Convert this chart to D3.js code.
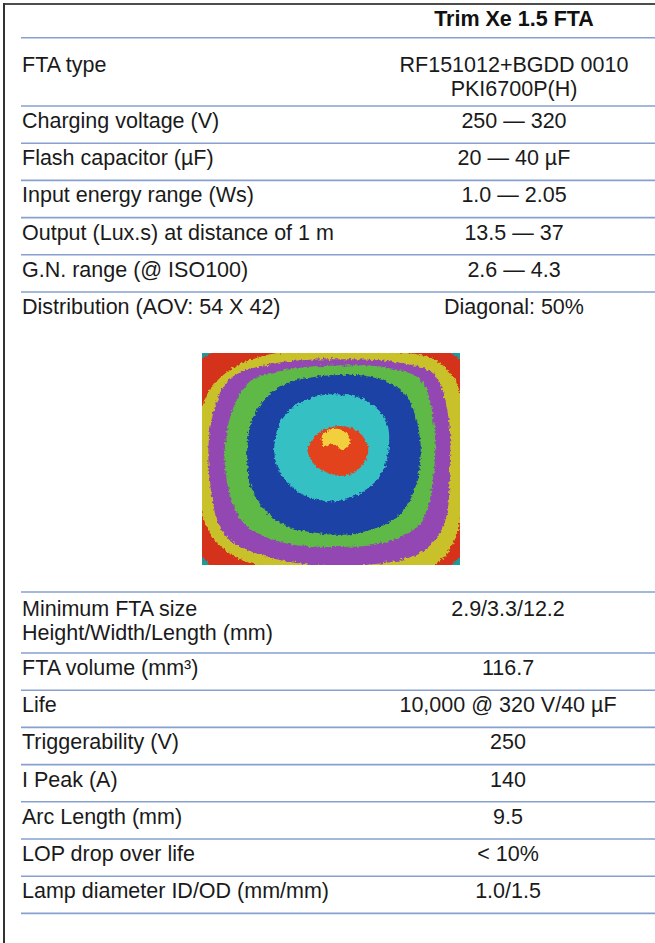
<!DOCTYPE html>
<html lang="en">
<head>
<meta charset="UTF-8">
<title>Trim Xe 1.5 FTA</title>
<script src="https://d3js.org/d3.v7.min.js"></script>
<style>
  body { margin: 0; background: #fff; }
  svg { display: block; font-family: "Liberation Sans", Arial, sans-serif; }
</style>
</head>
<body>
<svg width="655" height="943"></svg>
<script>
// table content
const header = "Trim Xe 1.5 FTA";
const topLabels = ["FTA type", "Charging voltage (V)", "Flash capacitor (µF)", "Input energy range (Ws)",
  "Output (Lux.s) at distance of 1 m", "G.N. range (@ ISO100)", "Distribution (AOV: 54 X 42)"];
const topValues = ["RF151012+BGDD 0010|PKI6700P(H)", "250 — 320", "20 — 40 µF", "1.0 — 2.05",
  "13.5 — 37", "2.6 — 4.3", "Diagonal: 50%"];
const bottomLabels = ["Minimum FTA size|Height/Width/Length (mm)", "FTA volume (mm³)", "Life",
  "Triggerability (V)", "I Peak (A)", "Arc Length (mm)", "LOP drop over life", "Lamp diameter ID/OD (mm/mm)"];
const bottomValues = ["2.9/3.3/12.2", "116.7", "10,000 @ 320 V/40 µF", "250", "140", "9.5", "< 10%", "1.0/1.5"];

// light distribution picture: ring outlines, outer to inner, in % of the picture box
const ringNames = ["red", "yellow", "purple", "green", "blue", "cyan", "core", "hot"];
const ringPoints = [
  [[7, -3], [93, -3], [103, 5], [103, 93], [94, 103], [6, 103], [-3, 93], [-3, 5]],
  [[31, -0.5], [50, -1], [75, -0.5], [90, 3], [99, 15], [101, 40], [101, 70], [98, 88], [89, 101], [60, 102],
   [25, 101], [10, 94], [1, 80], [-1, 50], [1, 22], [12, 7]],
  [[50, 3], [76, 4.5], [90, 10], [95.5, 30], [96, 55], [94, 80], [85, 94], [55, 100.5], [25, 96], [9, 86],
   [3, 60], [4, 30], [11, 12], [28, 5]],
  [[50, 6], [72, 7], [85, 13], [90, 35], [89.5, 60], [85, 80], [72, 89], [52, 91.5], [30, 89], [16, 80],
   [9, 55], [11, 30], [18, 14], [32, 8]],
  [[50, 10.5], [68, 12], [79, 20], [84.5, 40], [83, 62], [76, 77], [60, 85], [45, 85], [30, 80], [20, 66],
   [17.5, 48], [20, 30], [30, 16]],
  [[50, 19.5], [63, 22], [71, 31], [72.5, 43], [69, 58], [60, 67], [50, 70], [38, 66], [30, 56], [28, 45],
   [31, 31], [39, 23]],
  [[52, 34.5], [60, 36.5], [64.5, 45], [61, 54.5], [53.5, 58], [45, 54], [41, 46], [44.5, 38.5]],
  [[53, 35.8], [56.5, 38.5], [57.5, 42], [54.5, 45.5], [51, 43], [47.5, 44], [46.5, 39], [49, 36.5]]
];

const colors = {
  back: "#1b9c9e", red: "#d5321f", yellow: "#c9c12c", purple: "#9346b3", green: "#5fb946",
  blue: "#1d43a6", cyan: "#36c1c3", core: "#e2421d", hot: "#f2cf3c"
};

const W = 655, fs = 21.5, lead = 24;
const svg = d3.select("svg");

// frame
svg.append("line").attr("x1", 3).attr("x2", W).attr("y1", 4).attr("y2", 4)
  .attr("stroke", "#4d4d4d").attr("stroke-width", 2);
svg.append("line").attr("x1", 4).attr("x2", 4).attr("y1", 3).attr("y2", 943)
  .attr("stroke", "#333").attr("stroke-width", 2);

const xLabel = 22, xValue = 514, xValue2 = 508, lineX0 = 21;
const single = 37.2;

function rule(y) {
  svg.append("line").attr("x1", lineX0).attr("x2", W).attr("y1", y).attr("y2", y)
    .attr("stroke", "#86a0cf").attr("stroke-width", 1.6);
}

function cell(x, y, str, anchor) {
  str.split("|").forEach((s, i) => {
    svg.append("text").attr("x", x).attr("y", y + i * lead).attr("font-size", fs)
      .attr("fill", "#1a1a1a").attr("text-anchor", anchor).text(s);
  });
}

// dbl = [row height, first baseline offset] for two-line rows
function rows(labels, values, top, dbl, vx, closeLast) {
  let y = top;
  labels.forEach((lab, i) => {
    const n = Math.max(lab.split("|").length, (values[i] || "").split("|").length);
    const h = n > 1 ? dbl[0] : single;
    const base = n > 1 ? dbl[1] : 22;
    cell(xLabel, y + base, lab, "start");
    cell(vx, y + base, values[i], "middle");
    y += h;
    if (i < labels.length - 1 || closeLast) rule(y);
  });
  return y;
}

// header
svg.append("text").attr("x", xValue).attr("y", 26).attr("font-size", fs).attr("font-weight", "bold")
  .attr("text-anchor", "middle").attr("fill", "#111").text(header);
rule(37.7);
rows(topLabels, topValues, 37.7, [68.3, 34.5], xValue, false);
rule(592);
rows(bottomLabels, bottomValues, 592, [61, 24], xValue2, true);

// picture
const box = { x: 202, y: 353, w: 258, h: 212 };
const px = d3.scaleLinear().domain([0, 100]).range([box.x, box.x + box.w]);
const py = d3.scaleLinear().domain([0, 100]).range([box.y, box.y + box.h]);
const defs = svg.append("defs");
defs.append("clipPath").attr("id", "pic").append("rect")
  .attr("x", box.x).attr("y", box.y).attr("width", box.w).attr("height", box.h);
const rough = defs.append("filter").attr("id", "rough")
  .attr("x", "-10%").attr("y", "-10%").attr("width", "120%").attr("height", "120%");
rough.append("feTurbulence").attr("type", "fractalNoise").attr("baseFrequency", 0.35)
  .attr("numOctaves", 2).attr("seed", 3).attr("result", "n");
rough.append("feDisplacementMap").attr("in", "SourceGraphic").attr("in2", "n")
  .attr("scale", 5).attr("xChannelSelector", "R").attr("yChannelSelector", "G");

const g = svg.append("g").attr("clip-path", "url(#pic)").append("g").attr("filter", "url(#rough)");
g.append("rect").attr("x", box.x - 10).attr("y", box.y - 10).attr("width", box.w + 20).attr("height", box.h + 20)
  .attr("fill", colors.back);
const smooth = d3.line().x(d => px(d[0])).y(d => py(d[1])).curve(d3.curveCatmullRomClosed.alpha(0.5));
const straight = d3.line().x(d => px(d[0])).y(d => py(d[1])).curve(d3.curveLinearClosed);
ringPoints.forEach((pts, i) => {
  g.append("path").attr("d", (i === 0 ? straight : smooth)(pts)).attr("fill", colors[ringNames[i]]);
});
</script>
</body>
</html>
